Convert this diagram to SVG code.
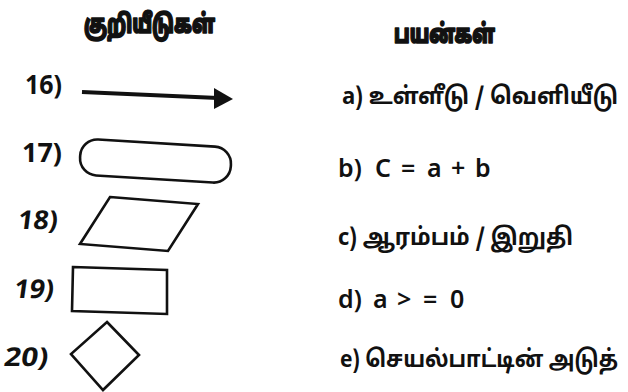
<svg xmlns="http://www.w3.org/2000/svg" width="628" height="392" viewBox="0 0 628 392">
<style>
.num{font-family:"Noto Sans","Open Sans","Liberation Sans",sans-serif;font-weight:700;font-size:26px;fill:#111}
.hd{font-family:"Noto Sans Tamil","Noto Sans","Liberation Sans",sans-serif;font-weight:900;font-size:26px;fill:#111;stroke:#111;stroke-width:1.6;stroke-linejoin:round}
.tx{font-family:"Noto Sans Tamil","Noto Sans","Liberation Sans",sans-serif;font-weight:700;font-size:24px;fill:#111}
.txs{font-family:"Noto Sans Tamil","Noto Sans","Liberation Sans",sans-serif;font-weight:700;font-size:20px;fill:#111}
.lt{font-family:"Noto Sans","Open Sans","Liberation Sans",sans-serif;font-weight:600;font-size:25px;fill:#111}
.sh{fill:none;stroke:#111;stroke-width:2.6;stroke-linejoin:miter}
.ar{fill:none;stroke:#111;stroke-width:4}
</style>
<rect width="628" height="392" fill="#fff"/>
<text class="hd" x="84" y="33" textLength="131" lengthAdjust="spacingAndGlyphs">குறியீடுகள்</text>
<text class="hd" x="394" y="43" textLength="101" lengthAdjust="spacingAndGlyphs">பயன்கள்</text>
<g id="n16">
<text class="num" x="25" y="94" textLength="37" lengthAdjust="spacingAndGlyphs">16)</text>
</g>
<g id="connectors">
<line class="ar" x1="82" y1="92" x2="218" y2="98"/>
<polygon points="233,99 214,88 214,109" fill="#111"/>
</g>
<g id="n17">
<text class="num" x="22" y="162" textLength="40" lengthAdjust="spacingAndGlyphs">17)</text>
<rect class="sh" x="80" y="143" width="151" height="36" rx="17" transform="rotate(3.5 155 161)"/>
</g>
<g id="n18">
<text class="num" transform="translate(17,229) skewX(-7)" x="0" y="0" textLength="40" lengthAdjust="spacingAndGlyphs">18)</text>
<polygon class="sh" points="110,197 198,204 168,251 80,244"/>
</g>
<g id="n19">
<text class="num" transform="translate(13,298) skewX(-8)" x="0" y="0" textLength="40" lengthAdjust="spacingAndGlyphs">19)</text>
<polygon class="sh" points="73,267 167,270 167,314 72,311"/>
</g>
<g id="n20">
<text class="num" transform="translate(3,366) skewX(-9)" x="0" y="0" textLength="44" lengthAdjust="spacingAndGlyphs">20)</text>
<polygon class="sh" points="107,322 139,355 103,390 71,354"/>
</g>
<g id="ua"><text class="txs" transform="translate(342,104) scale(1,1.2)" x="0" y="0" textLength="276" lengthAdjust="spacingAndGlyphs">a) உள்ளீடு / வெளியீடு</text></g>
<g id="ub"><text class="lt" y="177"><tspan x="338">b)</tspan><tspan x="375">C</tspan><tspan x="401">=</tspan><tspan x="427">a</tspan><tspan x="451">+</tspan><tspan x="475">b</tspan></text></g>
<g id="uc"><text class="tx" x="338" y="245" textLength="235" lengthAdjust="spacingAndGlyphs">c) ஆரம்பம் / இறுதி</text></g>
<g id="ud"><text class="lt" y="308"><tspan x="338">d)</tspan><tspan x="373">a</tspan><tspan x="397">&gt;</tspan><tspan x="423">=</tspan><tspan x="450">0</tspan></text></g>
<g id="ue"><text class="txs" transform="translate(340,367) scale(1,1.2)" x="0" y="0" textLength="278" lengthAdjust="spacingAndGlyphs">e) செயல்பாட்டின் அடுத்</text></g>
</svg>
